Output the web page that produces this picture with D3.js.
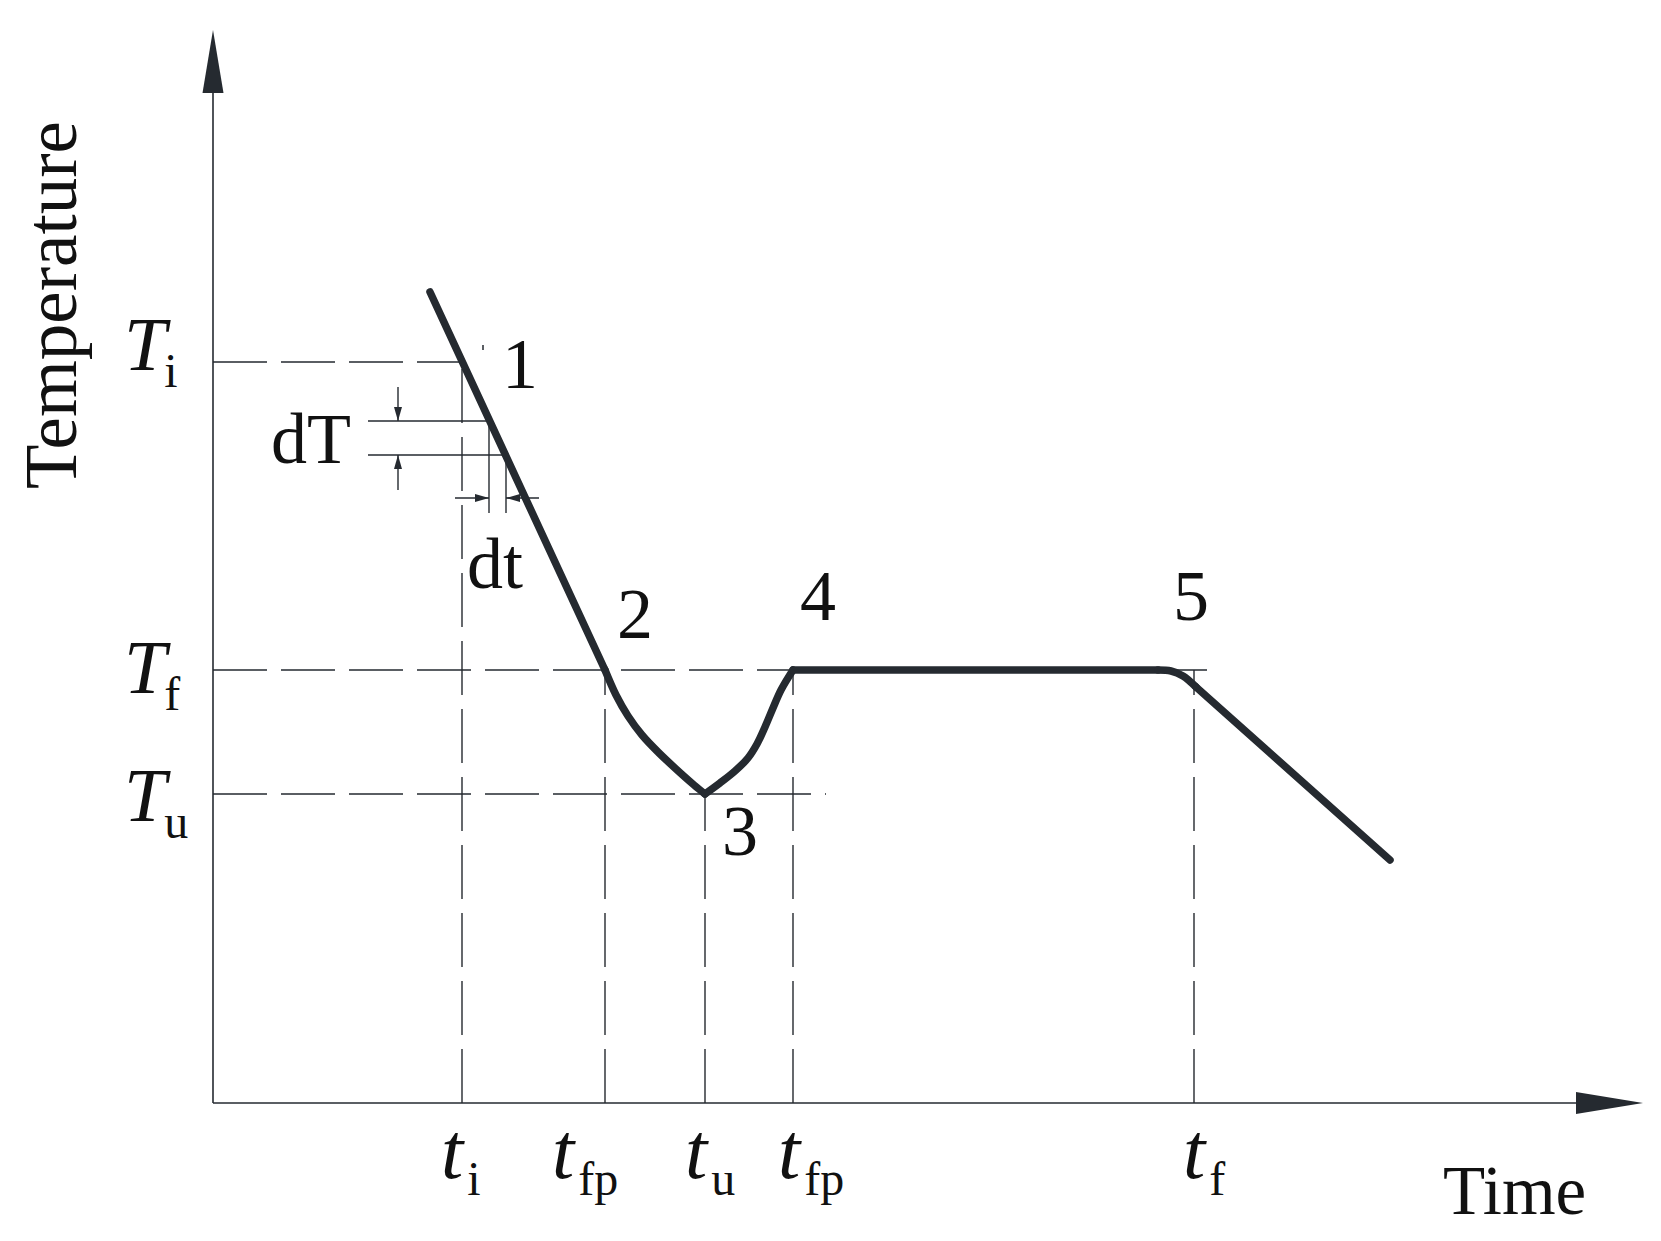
<!DOCTYPE html>
<html>
<head>
<meta charset="utf-8">
<script src="https://cdn.jsdelivr.net/npm/d3@7"></script>
<style>
  html, body { margin: 0; padding: 0; background: #ffffff; }
  svg { display: block; }
  text { font-family: "Liberation Serif", "Times New Roman", serif; fill: #111; }
</style>
</head>
<body>
<script>
// ---------------- data ----------------
// time tick positions (arbitrary time units) : t_i, t_fp, t_u, t_fp, t_f
const tickTimes = [24.9, 39.2, 49.2, 58.0, 98.1];
const tickMain  = ["t", "t", "t", "t", "t"];
const tickSub   = ["i", "fp", "u", "fp", "f"];
// temperature levels (arbitrary units) : T_i, T_f, T_u
const tempLevels = [74.1, 43.3, 30.9];
const tempMain   = ["T", "T", "T"];
const tempSub    = ["i", "f", "u"];
// horizontal guide end (time) for each temperature level
const tempGuideEnd = [24.9, 99.4, 61.3];
// vertical guide top (temperature) for each time tick
const tickGuideTop = [74.1, 43.3, 30.9, 43.3, 43.3];
// cooling curve, split into its stages
const curveStages = [
  { time: [21.7, 39.2], temp: [81.1, 43.3] },                                   // 1 -> 2 linear cooling
  { time: [39.2, 40.3, 41.5, 42.9, 44.5, 46.3, 48.1, 49.2],
    temp: [43.3, 40.8, 38.7, 36.8, 35.1, 33.4, 31.8, 30.9] },                   // 2 -> 3 undercooling
  { time: [49.2, 50.7, 52.2, 53.5, 54.4, 55.2, 56.0, 56.8, 58.0],
    temp: [30.9, 32.0, 33.2, 34.5, 35.9, 37.6, 39.5, 41.3, 43.3] },             // 3 -> 4 recalescence
  { time: [58.0, 94.5], temp: [43.3, 43.3] },                                   // 4 -> 5 plateau
  { time: [94.5, 95.8, 97.0, 98.3], temp: [43.3, 43.2, 42.7, 41.6] },           // end of plateau
  { time: [98.3, 117.7], temp: [41.6, 24.3] }                                   // solid cooling
];
// stage numbers
const stageLabels = ["1", "2", "3", "4", "5"];
const stageTime   = [28.9, 40.4, 50.9, 58.7, 96.0];
const stageTemp   = [71.5, 46.5, 24.8, 48.3, 48.3];
// dT / dt construction
const dTLevels = [68.2, 64.8];
const dtTimes  = [27.6, 29.3];

// ---------------- layout ----------------
const W = 1661, H = 1241;
const x = d3.scaleLinear().domain([0, 143]).range([213, 1643]);
const y = d3.scaleLinear().domain([0, 107.3]).range([1103, 30]);
const ink = "#252a30";

const svg = d3.select("body").append("svg").attr("width", W).attr("height", H);

// axes
const x0 = x(0), y0 = y(0);
svg.append("line").attr("x1", x0).attr("y1", y0).attr("x2", x(136.3)).attr("y2", y0)
  .attr("stroke", ink).attr("stroke-width", 1.6);
svg.append("line").attr("x1", x0).attr("y1", y0).attr("x2", x0).attr("y2", y(101))
  .attr("stroke", ink).attr("stroke-width", 1.6);
svg.append("path")
  .attr("d", `M${x(136.3)},${y0 - 11} L${x(143)},${y0} L${x(136.3)},${y0 + 11} Z`)
  .attr("fill", ink);
svg.append("path")
  .attr("d", `M${x0 - 10.5},${y(101)} L${x0},${y(107.3)} L${x0 + 10.5},${y(101)} Z`)
  .attr("fill", ink);

// dashed guides
const dash = "54,14";
tempLevels.forEach((T, i) => {
  svg.append("line").attr("x1", x0).attr("x2", x(tempGuideEnd[i]))
    .attr("y1", y(T)).attr("y2", y(T))
    .attr("stroke", ink).attr("stroke-width", 1.4).attr("stroke-dasharray", dash);
});
tickTimes.forEach((t, i) => {
  svg.append("line").attr("x1", x(t)).attr("x2", x(t))
    .attr("y1", y0).attr("y2", y(tickGuideTop[i]))
    .attr("stroke", ink).attr("stroke-width", 1.4).attr("stroke-dasharray", dash);
});

// dT / dt construction lines
const s0 = curveStages[0];
const lineTime = T => s0.time[0] + (T - s0.temp[0]) * (s0.time[1] - s0.time[0]) / (s0.temp[1] - s0.temp[0]);
const lineTemp = t => s0.temp[0] + (t - s0.time[0]) * (s0.temp[1] - s0.temp[0]) / (s0.time[1] - s0.time[0]);
dTLevels.forEach(T => {
  svg.append("line").attr("x1", x(15.5)).attr("x2", x(lineTime(T)))
    .attr("y1", y(T)).attr("y2", y(T)).attr("stroke", ink).attr("stroke-width", 1.4);
});
dtTimes.forEach(t => {
  svg.append("line").attr("x1", x(t)).attr("x2", x(t))
    .attr("y1", y(lineTemp(t))).attr("y2", y(59.0)).attr("stroke", ink).attr("stroke-width", 1.4);
});
function arrow(xa, ya, xb, yb) {
  svg.append("line").attr("x1", xa).attr("y1", ya).attr("x2", xb).attr("y2", yb)
    .attr("stroke", ink).attr("stroke-width", 1.4);
  const ang = Math.atan2(yb - ya, xb - xa);
  const L = 14, w = 4;
  const bx = xb - L * Math.cos(ang), by = yb - L * Math.sin(ang);
  const px = -Math.sin(ang) * w, py = Math.cos(ang) * w;
  svg.append("path").attr("d", `M${xb},${yb} L${bx + px},${by + py} L${bx - px},${by - py} Z`).attr("fill", ink);
}
arrow(x(18.5), y(71.6), x(18.5), y(dTLevels[0]));
arrow(x(18.5), y(61.3), x(18.5), y(dTLevels[1]));
arrow(x(24.2), y(60.5), x(dtTimes[0]), y(60.5));
arrow(x(32.6), y(60.5), x(dtTimes[1]), y(60.5));
svg.append("line").attr("x1", x(27.0)).attr("x2", x(27.0)).attr("y1", y(75.8)).attr("y2", y(75.3))
  .attr("stroke", ink).attr("stroke-width", 1.5);

// cooling curve
const lineGen = d3.line().x(d => x(d[0])).y(d => y(d[1])).curve(d3.curveCatmullRom.alpha(0.5));
curveStages.forEach(s => {
  svg.append("path")
    .attr("d", lineGen(s.time.map((t, i) => [t, s.temp[i]])))
    .attr("fill", "none").attr("stroke", ink).attr("stroke-width", 7.5)
    .attr("stroke-linecap", "round").attr("stroke-linejoin", "round");
});

// temperature labels
const tempDy = [8, 23, 27];
tempLevels.forEach((T, i) => {
  const tx = svg.append("text").attr("x", 124).attr("y", y(T) + tempDy[i]).attr("font-size", 76);
  tx.append("tspan").attr("font-style", "italic").text(tempMain[i]);
  tx.append("tspan").attr("dx", -2).attr("dy", 17).attr("font-size", 48).text(tempSub[i]);
});

// time tick labels
const tickDx = [-21, -53, -20, -15, -11];
tickTimes.forEach((t, i) => {
  const tx = svg.append("text").attr("x", x(t) + tickDx[i]).attr("y", 1178).attr("font-size", 80);
  tx.append("tspan").attr("font-style", "italic").text(tickMain[i]);
  tx.append("tspan").attr("dx", 4).attr("dy", 17).attr("font-size", 48).text(tickSub[i]);
});

// stage numbers
stageLabels.forEach((s, i) => {
  svg.append("text").attr("x", x(stageTime[i])).attr("y", y(stageTemp[i]))
    .attr("font-size", 72).text(s);
});

// dT, dt labels
svg.append("text").attr("x", 271).attr("y", 463).attr("font-size", 72).text("dT");
svg.append("text").attr("x", 467).attr("y", 588).attr("font-size", 72).text("dt");

// axis titles
svg.append("text").attr("x", 1443).attr("y", 1214).attr("font-size", 69).text("Time");
svg.append("text").attr("transform", "translate(76,305) rotate(-90)")
  .attr("text-anchor", "middle").attr("font-size", 73).text("Temperature");
</script>
</body>
</html>
